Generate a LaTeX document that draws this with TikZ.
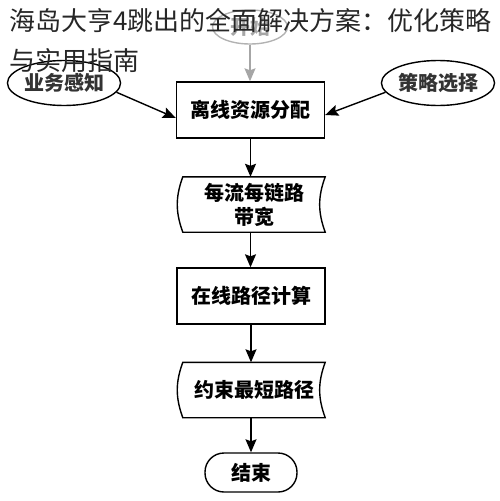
\documentclass[tikz,border=0pt]{standalone}
\usepackage{fontspec}
\newfontfamily\cjk{Noto Sans CJK SC}
\usetikzlibrary{shapes.geometric,arrows.meta}
\begin{document}
\begin{tikzpicture}[x=1pt,y=-1pt]
            \tikzstyle{ovale}=[ellipse,draw,line width=1.4pt,inner sep=0pt,minimum width=113pt,minimum height=45pt,text=black!80,font=\cjk\bfseries\fontsize{20}{24}\selectfont]
            \tikzstyle{boite}=[rectangle,draw,line width=1.4pt,minimum width=148pt,minimum height=56pt,font=\cjk\bfseries\fontsize{20}{24}\selectfont]
            \tikzstyle{donnee}=[rectangle,inner sep=0pt,minimum width=142pt,minimum height=55pt,align=center,font=\cjk\bfseries\fontsize{20}{24}\selectfont]
            \tikzstyle{fin}=[rectangle,draw,line width=1.4pt,rounded corners=19pt,minimum width=92pt,minimum height=39pt,font=\cjk\bfseries\fontsize{20}{24}\selectfont]
            \tikzstyle{fleche}=[line width=1.4pt,-{Stealth[length=13pt,width=11pt,inset=2pt]}]
            \tikzstyle{bord}=[line width=1.4pt]
            \tikzstyle{titre}=[anchor=base west,inner sep=0pt,text=black!85,font=\cjk\fontsize{26}{30}\selectfont]
            \useasboundingbox (0,0) rectangle (500,501);
            \node[ovale,draw=black!30,text=black!35,minimum width=75pt,minimum height=34pt] (debut) at (250,27) {开始};
            \node[ovale] (metier) at (64,83) {业务感知};
            \node[ovale] (strategie) at (438,83) {策略选择};
            \node[boite] (offline) at (250.5,110) {离线资源分配};
            \node[donnee] (bande) at (254,204.5) {每流每链路\\带宽};
            \node[boite] (online) at (251,296) {在线路径计算};
            \node[donnee] (contrainte) at (254,390) {约束最短路径};
            \node[fin] (fin) at (251,472.5) {结束};
            \draw[bord] (bande.north west) to[bend right=20] (bande.south west) -- (bande.south east) to[bend left=20] (bande.north east) -- cycle;
            \draw[bord] (contrainte.north west) to[bend right=20] (contrainte.south west) -- (contrainte.south east) to[bend left=20] (contrainte.north east) -- cycle;
            \draw[fleche,draw=black!35,fill=black!35] (debut.south) -- (debut.south |- offline.north);
            \draw[fleche] (metier.-10) -- ([yshift=-8pt]offline.west);
            \draw[fleche] (strategie.190) -- ([yshift=-5pt]offline.east);
            \draw[fleche] (offline.south) -- (offline.south |- bande.north);
            \draw[fleche] (offline.south |- bande.south) -- (offline.south |- online.north);
            \draw[fleche] (online.south) -- (online.south |- contrainte.north);
            \draw[fleche] (online.south |- contrainte.south) -- (fin.north);
            \node[titre] (titre1) at (9,30) {海岛大亨4跳出的全面解决方案：优化策略};
            \node[titre] (titre2) at (9,70) {与实用指南};
        \end{tikzpicture}
\end{document}
